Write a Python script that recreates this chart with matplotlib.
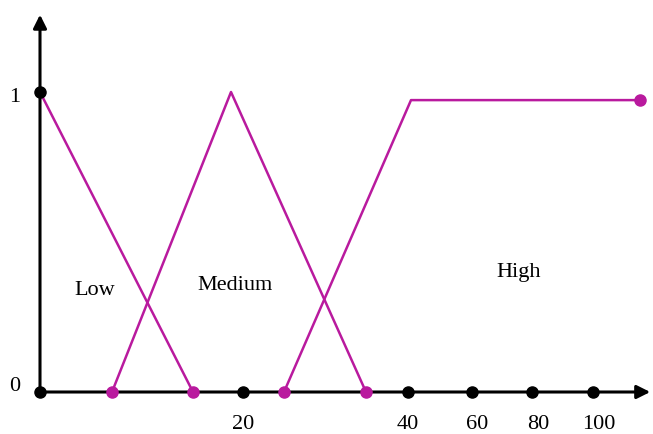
import matplotlib.pyplot as plt

# membership functions (x in chart position units, origin at 0)
low_x = [0, 153]
low_y = [1, 0]
med_x = [72, 191, 326]
med_y = [0, 1, 0]
high_x = [244, 371, 600]
high_y = [0, 0.973, 0.973]

# magenta end points
mag_x = [72, 153, 244, 326, 600]
mag_y = [0, 0, 0, 0, 0.973]

# black points on the axes
blk_x = [0, 0, 203, 368, 432, 492, 553]
blk_y = [1, 0, 0, 0, 0, 0, 0]

tick_pos = [203, 368, 437, 498, 559]
tick_lab = ['20', '40', '60', '80', '100']

labels = ['Low', 'Medium', 'High']
label_pos = [(55, 0.338), (195, 0.355), (479, 0.398)]

plt.rcParams['font.family'] = ['Liberation Serif', 'DejaVu Serif']
mag = '#b91a9e'

fig = plt.figure(figsize=(6.53, 4.34), dpi=100)
ax = fig.add_axes([0, 0, 1, 1])
ax.set_xlim(-40, 613)
ax.set_ylim(-0.14, 1.3067)
ax.axis('off')

# axes with arrows
ax.annotate('', xy=(613, 0), xytext=(0, 0),
            arrowprops=dict(arrowstyle='-|>', lw=2.2, color='black', mutation_scale=20))
ax.annotate('', xy=(0, 1.267), xytext=(0, 0),
            arrowprops=dict(arrowstyle='-|>', lw=2.2, color='black', mutation_scale=20))

ax.plot(low_x, low_y, color=mag, lw=1.8)
ax.plot(med_x, med_y, color=mag, lw=1.8)
ax.plot(high_x, high_y, color=mag, lw=1.8)

ax.plot(blk_x, blk_y, 'o', color='black', ms=8, ls='none', zorder=5)
ax.plot(mag_x, mag_y, 'o', color=mag, ms=8, ls='none', zorder=5)

for p, t in zip(tick_pos, tick_lab):
    ax.text(p, -0.107, t, ha='center', va='center', fontsize=16)
ax.text(-25, 0.982, '1', ha='center', va='center', fontsize=16)
ax.text(-25, 0.02, '0', ha='center', va='center', fontsize=16)

for lab, (lx, ly) in zip(labels, label_pos):
    ax.text(lx, ly, lab, ha='center', va='center', fontsize=16)

fig.savefig('out.png', dpi=100)
